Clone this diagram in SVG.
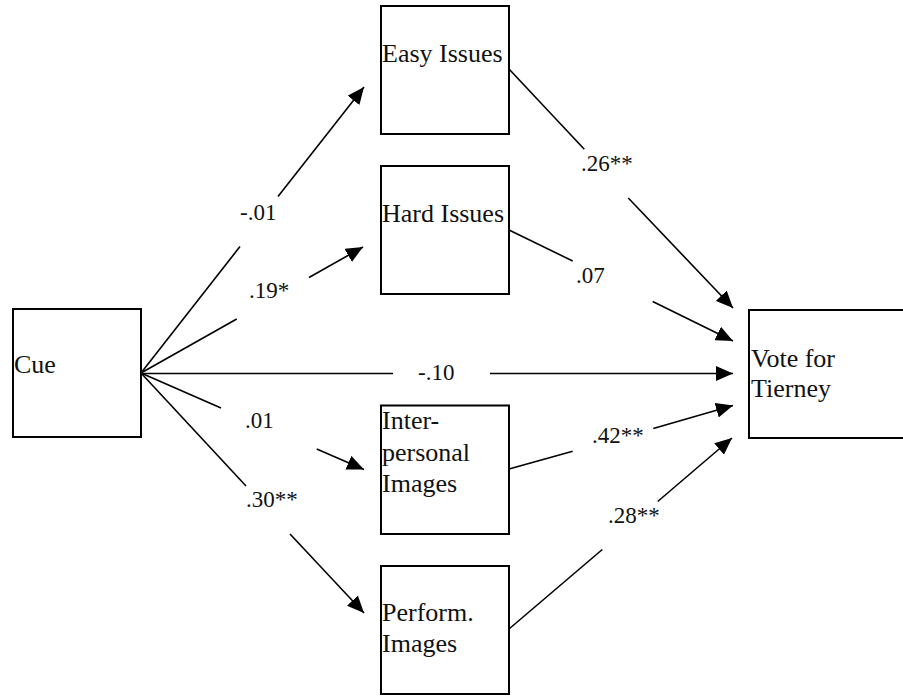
<svg xmlns="http://www.w3.org/2000/svg" width="903" height="696" viewBox="0 0 903 696">
<style>
.box{fill:#fff;stroke:#000;stroke-width:2}
.nt{font-size:26px;fill:#111}
.lbl{font-size:23px;fill:#111}
.ln{stroke:#000;stroke-width:1.6;fill:none}
.arr{stroke:#000;stroke-width:1.6;fill:none;marker-end:url(#ah)}
</style>
<defs>
<marker id="ah" markerUnits="userSpaceOnUse" markerWidth="17" markerHeight="15" refX="17" refY="7.5" orient="auto">
<path d="M0,0 L17,7.5 L0,15 z" fill="#000"/>
</marker>
</defs>
<rect width="903" height="696" fill="#fff"/>
<g id="connectors">
<line class="ln" x1="141" y1="373" x2="240" y2="246.5"/>
<line class="arr" x1="278" y1="196.5" x2="364" y2="87"/>
<line class="ln" x1="141" y1="373" x2="236.7" y2="319"/>
<line class="arr" x1="309" y1="277.5" x2="363" y2="247"/>
<line class="ln" x1="141" y1="373.5" x2="393" y2="373.5"/>
<line class="arr" x1="490" y1="373.5" x2="733" y2="373.5"/>
<line class="ln" x1="141" y1="373" x2="221" y2="408"/>
<line class="arr" x1="316.7" y1="449" x2="364" y2="469.5"/>
<line class="ln" x1="141" y1="373" x2="246" y2="486"/>
<line class="arr" x1="290" y1="534" x2="364" y2="613"/>
<line class="ln" x1="509" y1="69" x2="584.3" y2="149.3"/>
<line class="arr" x1="628.3" y1="198" x2="733" y2="308"/>
<line class="ln" x1="509" y1="230" x2="572.7" y2="261"/>
<line class="arr" x1="652.7" y1="301.5" x2="733" y2="341"/>
<line class="ln" x1="509" y1="469" x2="572.7" y2="451.2"/>
<line class="arr" x1="653.3" y1="428.5" x2="733" y2="405.5"/>
<line class="ln" x1="509" y1="629" x2="602.3" y2="549.5"/>
<line class="arr" x1="657.7" y1="501.5" x2="732" y2="438"/>
</g>
<g id="labels" font-family="Liberation Serif, serif">
<text class="lbl" x="240" y="220">-.01</text>
<text class="lbl" x="249" y="298">.19*</text>
<text class="lbl" x="418" y="380">-.10</text>
<text class="lbl" x="245" y="428">.01</text>
<text class="lbl" x="246" y="507">.30**</text>
<text class="lbl" x="581" y="171">.26**</text>
<text class="lbl" x="576" y="283">.07</text>
<text class="lbl" x="592" y="443">.42**</text>
<text class="lbl" x="608" y="523">.28**</text>
</g>
<g id="cue" font-family="Liberation Serif, serif">
<rect class="box" x="13" y="309" width="128" height="128"/>
<text class="nt" x="14" y="373">Cue</text>
</g>
<g id="easy" font-family="Liberation Serif, serif">
<rect class="box" x="381" y="6" width="128" height="128"/>
<text class="nt" x="382" y="62">Easy Issues</text>
</g>
<g id="hard" font-family="Liberation Serif, serif">
<rect class="box" x="381" y="166" width="128" height="128"/>
<text class="nt" x="382" y="222">Hard Issues</text>
</g>
<g id="interpersonal" font-family="Liberation Serif, serif">
<rect class="box" x="381" y="405.5" width="128" height="128.5"/>
<text class="nt" x="382" y="429">Inter-</text>
<text class="nt" x="382" y="461">personal</text>
<text class="nt" x="382" y="492">Images</text>
</g>
<g id="perform" font-family="Liberation Serif, serif">
<rect class="box" x="381" y="566" width="128" height="128"/>
<text class="nt" x="382" y="621">Perform.</text>
<text class="nt" x="382" y="652">Images</text>
</g>
<g id="vote" font-family="Liberation Serif, serif">
<rect class="box" x="749" y="310" width="170" height="128"/>
<text class="nt" x="751" y="367">Vote for</text>
<text class="nt" x="751" y="397">Tierney</text>
</g>
</svg>
